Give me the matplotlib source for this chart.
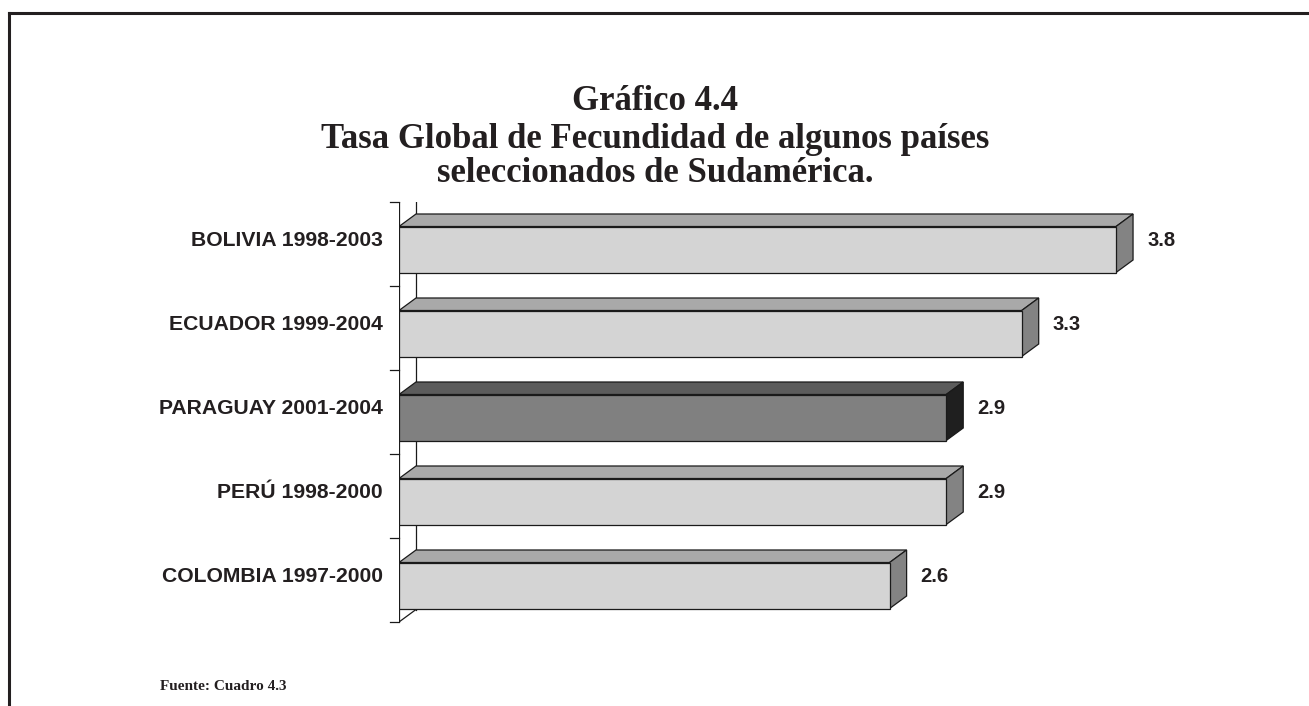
import matplotlib
matplotlib.use("Agg")
import matplotlib.pyplot as plt
from matplotlib.patches import Polygon, Rectangle
from matplotlib.lines import Line2D
import numpy as np

categories = ["BOLIVIA 1998-2003", "ECUADOR 1999-2004", "PARAGUAY 2001-2004",
              "PERÚ 1998-2000", "COLOMBIA 1997-2000"]
values = [3.8, 3.3, 2.9, 2.9, 2.6]
value_labels = ["3.8", "3.3", "2.9", "2.9", "2.6"]
highlight = "PARAGUAY 2001-2004"

title_lines = ["Gráfico 4.4",
               "Tasa Global de Fecundidad de algunos países",
               "seleccionados de Sudamérica."]
source_text = "Fuente: Cuadro 4.3"

W, H = 1309, 706
DPI = 100
fig = plt.figure(figsize=(W / DPI, H / DPI), dpi=DPI)
fig.patch.set_facecolor("white")

TXT = "#231f20"
SERIF = ["Liberation Serif", "DejaVu Serif"]
SANS = ["Liberation Sans", "DejaVu Sans"]

# axes placed in pixel terms
ax_left, ax_right = 399, 1267
ax_top, ax_bottom = 202, 622
ax = fig.add_axes([ax_left / W, 1 - ax_bottom / H,
                   (ax_right - ax_left) / W, (ax_bottom - ax_top) / H])
xmax = 4.6
n = len(categories)
ax.set_xlim(0, xmax)
ax.set_ylim(n, 0)
ax.axis("off")

px_x = (ax_right - ax_left) / xmax
px_y = (ax_bottom - ax_top) / n
dx = 17 / px_x
dy = 12.5 / px_y
front_top_off = 24.5 / px_y
front_h = 46 / px_y

EC = "#1a1a1a"
LW = 0.9
# back wall / axis lines
ax.add_line(Line2D([0, 0], [0, n], color=EC, lw=LW, zorder=1))
ax.add_line(Line2D([dx, dx], [-dy, n - dy], color=EC, lw=LW, zorder=1))
ax.add_line(Line2D([0, dx], [0, -dy], color=EC, lw=LW, zorder=1))
ax.add_line(Line2D([0, dx], [n, n - dy], color=EC, lw=LW, zorder=1))
tick_len = 9 / px_x
for b in range(n + 1):
    ax.add_line(Line2D([-tick_len, 0], [b, b], color=EC, lw=LW,
                       zorder=1, clip_on=False))

for i, (cat, v, lab) in enumerate(zip(categories, values, value_labels)):
    if cat == highlight:
        c_front, c_top, c_side = "#808080", "#5c5c5c", "#1f1f1f"
    else:
        c_front, c_top, c_side = "#d4d4d4", "#a9a9a9", "#838383"
    top = i + front_top_off
    bot = top + front_h
    top_face = Polygon([(0, top), (dx, top - dy), (v + dx, top - dy), (v, top)],
                       closed=True, facecolor=c_top, edgecolor=EC,
                       lw=LW, zorder=3)
    side_face = Polygon([(v, top), (v + dx, top - dy), (v + dx, bot - dy), (v, bot)],
                        closed=True, facecolor=c_side, edgecolor=EC,
                        lw=LW, zorder=3)
    front = Rectangle((0, top), v, front_h, facecolor=c_front,
                      edgecolor=EC, lw=LW, zorder=4)
    ax.add_patch(top_face)
    ax.add_patch(side_face)
    ax.add_patch(front)
    yc = (top - dy + bot) / 2 - 2.5 / px_y
    ax.annotate(lab, xy=(v + dx, yc), xytext=(14 * 72 / DPI, 0),
                textcoords="offset points", ha="left", va="center",
                fontsize=14.5, fontweight="bold", family=SANS, color=TXT,
                annotation_clip=False)
    ax.text(-16 / px_x, yc, cat, ha="right", va="center", fontsize=15.2,
            fontweight="bold", family=SANS, color=TXT, clip_on=False)

# titles
title_y = [101, 140, 173]
for t, y in zip(title_lines, title_y):
    fig.text(655 / W, 1 - y / H, t, ha="center", va="center", fontsize=25,
             fontweight="bold", family=SERIF, color=TXT)

fig.text(160 / W, 1 - 687 / H, source_text, ha="left", va="center",
         fontsize=11, fontweight="bold", family=SERIF, color=TXT)

# frame (top and left)
fig.add_artist(Line2D([8.5 / W, 1.0], [1 - 12.5 / H, 1 - 12.5 / H],
                      transform=fig.transFigure, color="#231f20", lw=2.2))
fig.add_artist(Line2D([8.5 / W, 8.5 / W], [1 - 12.5 / H, 0.0],
                      transform=fig.transFigure, color="#231f20", lw=2.2))

fig.savefig("out.png", dpi=DPI, facecolor="white")
